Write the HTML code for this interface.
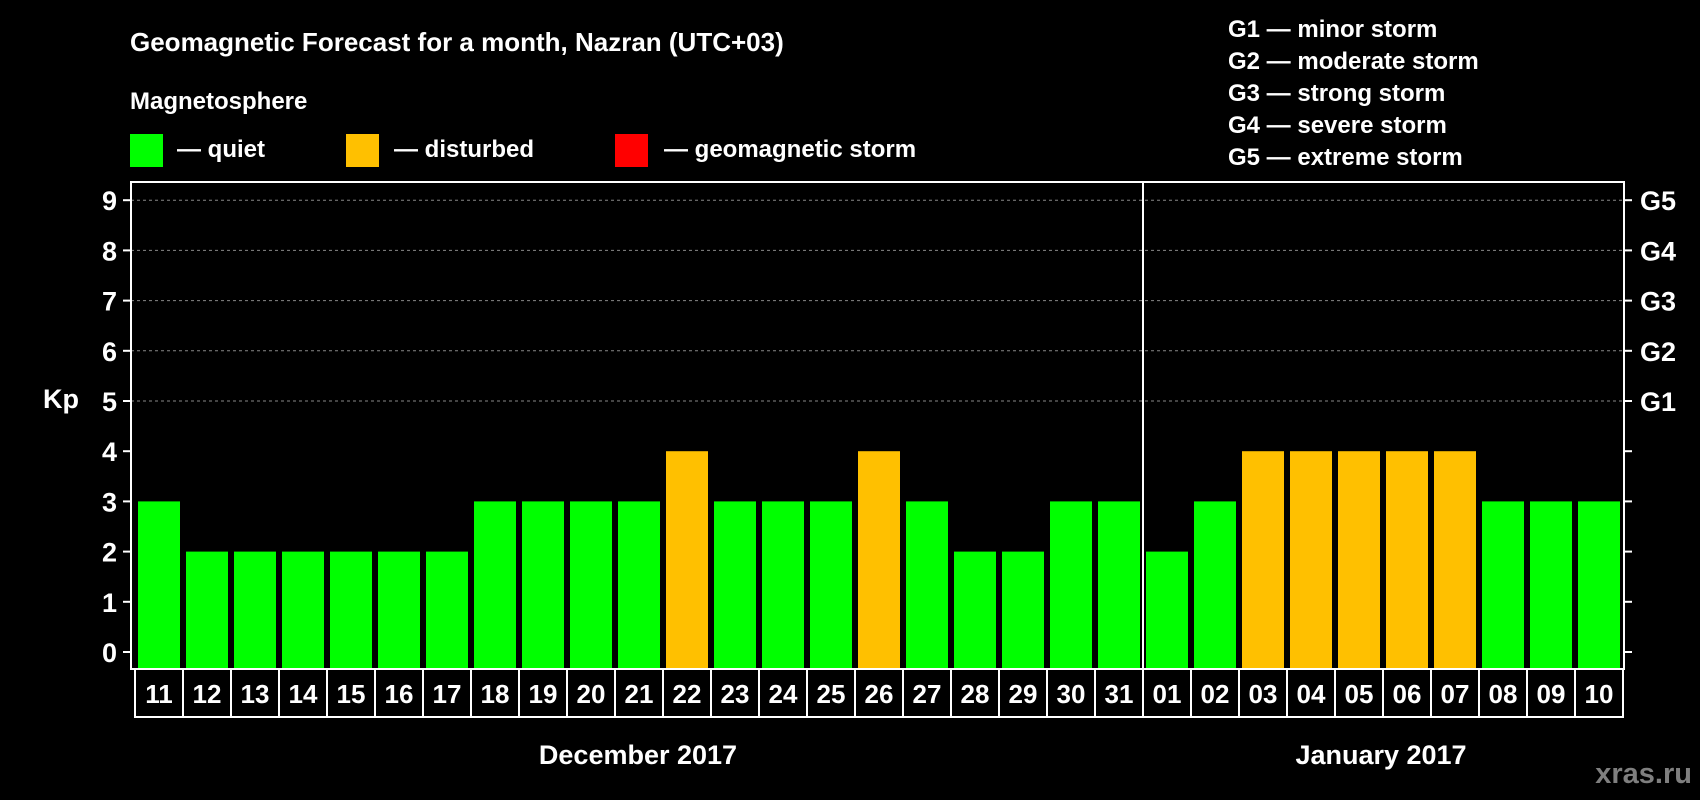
<!DOCTYPE html>
<html><head><meta charset="utf-8"><style>
body{margin:0;background:#000;width:1700px;height:800px;overflow:hidden}
svg{display:block;font-family:"Liberation Sans",Arial,sans-serif;font-weight:bold}
</style></head><body>
<svg id="c" width="1700" height="800">
<text x="130" y="51" fill="#fff" font-size="26">Geomagnetic Forecast for a month, Nazran (UTC+03)</text>
<text x="130" y="109" fill="#fff" font-size="24">Magnetosphere</text>
<rect x="130" y="134" width="33" height="33" fill="#00ff00"/>
<text x="177" y="157" fill="#fff" font-size="24">— quiet</text>
<rect x="346" y="134" width="33" height="33" fill="#ffc000"/>
<text x="394" y="157" fill="#fff" font-size="24">— disturbed</text>
<rect x="615" y="134" width="33" height="33" fill="#ff0000"/>
<text x="664" y="157" fill="#fff" font-size="24">— geomagnetic storm</text>
<g fill="#fff" font-size="24">
<text x="1228" y="37">G1 — minor storm</text>
<text x="1228" y="69">G2 — moderate storm</text>
<text x="1228" y="101">G3 — strong storm</text>
<text x="1228" y="133">G4 — severe storm</text>
<text x="1228" y="165">G5 — extreme storm</text>
</g>
<text x="43" y="408" fill="#fff" font-size="27">Kp</text>
<text x="638" y="764" fill="#fff" font-size="27" text-anchor="middle">December 2017</text>
<text x="1381" y="764" fill="#fff" font-size="27" text-anchor="middle">January 2017</text>
<text x="1692" y="783" fill="#7f7f7f" font-size="29" text-anchor="end">xras.ru</text>
<g id="plot"></g>
</svg>
<script>
const days=["11","12","13","14","15","16","17","18","19","20","21","22","23","24","25","26","27","28","29","30","31","01","02","03","04","05","06","07","08","09","10"];
const kp=[3,2,2,2,2,2,2,3,3,3,3,4,3,3,3,4,3,2,2,3,3,2,3,4,4,4,4,4,3,3,3];
const yTicks=[0,1,2,3,4,5,6,7,8,9];
const gLabels=["G1","G2","G3","G4","G5"];
const NS="http://www.w3.org/2000/svg";
const g=document.getElementById('plot');
const L=131,R=1624,T=182,B=669,Y0=652,U=50.2,P=48,X0=138,BW=42;
const y=v=>Y0-v*U, x=i=>X0+i*P;
function mk(t,a){const e=document.createElementNS(NS,t);for(const k in a)e.setAttribute(k,a[k]);g.appendChild(e);return e;}
yTicks.forEach(v=>{
  if(v>=5){const l=mk('line',{x1:L,x2:R,y1:y(v),y2:y(v),stroke:'#888','stroke-dasharray':'3,3','stroke-width':1});
  
  }
  const t1=mk('line',{x1:L-8,x2:L,y1:y(v),y2:y(v),stroke:'#fff','stroke-width':2});
  
  
  const t2=mk('line',{x1:R,x2:R+8,y1:y(v),y2:y(v),stroke:'#fff','stroke-width':2});
  
  
  const tx=mk('text',{x:L-14,y:y(v)+10,fill:'#fff','font-size':27,'text-anchor':'end'});tx.textContent=v;
  
  
});
gLabels.forEach((s,i)=>{const t=mk('text',{x:R+16,y:y(5+i)+10,fill:'#fff','font-size':27});t.textContent=s;
  
  });
kp.forEach((v,i)=>{
  const c=v>=5?'#ff0000':v>=4?'#ffc000':'#00ff00';
  const r=mk('rect',{x:x(i),y:y(v),width:BW,height:B-y(v),fill:c});
  
  
  const cell=mk('rect',{x:x(i)-3,y:B,width:P,height:48,fill:'none',stroke:'#fff','stroke-width':2});
  
  
  const t=mk('text',{x:x(i)+BW/2,y:B+34,fill:'#fff','font-size':26,'text-anchor':'middle'});t.textContent=days[i];
  
  
});
const fr=mk('rect',{x:L,y:T,width:R-L,height:B-T,fill:'none',stroke:'#fff','stroke-width':2});


const di=days.indexOf("01");
const dv=mk('line',{x1:x(di)-3,x2:x(di)-3,y1:T,y2:B,stroke:'#fff','stroke-width':2});


</script>
</body></html>
